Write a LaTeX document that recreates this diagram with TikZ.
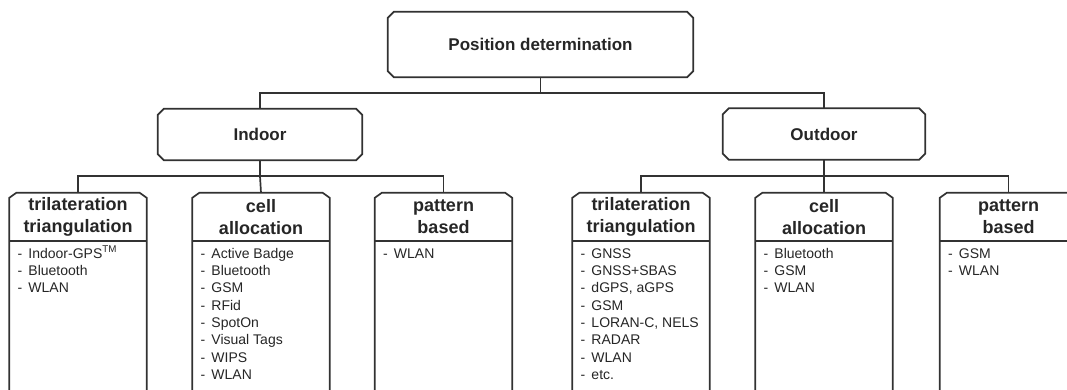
\documentclass[tikz,border=0pt]{standalone}
\usepackage{fontspec}
\setmainfont{Liberation Sans}
\usetikzlibrary{calc}
\definecolor{ln}{RGB}{50,50,50}
\definecolor{tx}{RGB}{38,38,38}
\newcommand\bevbox[1]{%
  \draw[edge] ($(#1.north west)+(0,6)$) -- ($(#1.north west)+(6,0)$) -- ($(#1.north east)+(-6,0)$) -- ($(#1.north east)+(0,6)$) -- ($(#1.south east)+(0,-6)$) -- ($(#1.south east)+(-6,0)$) -- ($(#1.south west)+(6,0)$) -- ($(#1.south west)+(0,-6)$) -- cycle;}
\newcommand\colbox[1]{%
  \draw[edge] ($(#1.south west)+(0,160)$) -- ($(#1.north west)+(0,5)$) -- ($(#1.north west)+(7,0)$) -- ($(#1.north east)+(-7,0)$) -- ($(#1.north east)+(0,5)$) -- ($(#1.south east)+(0,160)$);
  \draw[edge] (#1.south west) -- (#1.south east);}
\newcommand\itemlist[1]{{\fontsize{14}{17.3}\selectfont\begin{tabular}[t]{@{}l@{\hspace{6.3pt}}l@{}}#1\end{tabular}}}
\begin{document}
\begin{tikzpicture}[x=1pt,y=-1pt,
  edge/.style={draw=ln,line width=1.7pt,line join=miter},
  mainbox/.style={rectangle,draw=none,inner sep=0pt,text=tx,font=\fontsize{17}{20}\selectfont\bfseries},
  headbox/.style={rectangle,draw=none,inner sep=0pt,minimum width=137pt,minimum height=48pt,align=center,text=tx,font=\fontsize{18}{22}\selectfont\bfseries},
  listbox/.style={inner sep=0pt,anchor=base west,text=tx}]
\useasboundingbox (0,0) rectangle (1067,390);
\fill[white] (0,0) rectangle (1067,390);
\clip (0,0) rectangle (1067,390);
% level 0 and 1
\node[mainbox,minimum width=305pt,minimum height=65pt] (tp) at (540.5,44.5) {Position determination};
\node[mainbox,minimum width=204pt,minimum height=51pt] (ind) at (260,134.5) {Indoor};
\node[mainbox,minimum width=202pt,minimum height=51pt] (outd) at (824,134) {Outdoor};
\bevbox{tp}\bevbox{ind}\bevbox{outd}
% level 2 headers
\node[headbox] (h1) at (78,217) {trilateration\\triangulation};
\node[headbox] (h2) at (261,217) {cell\\allocation};
\node[headbox] (h3) at (443.5,217) {pattern\\based};
\node[headbox] (h4) at (641,217) {trilateration\\triangulation};
\node[headbox] (h5) at (824,217) {cell\\allocation};
\node[headbox] (h6) at (1008.5,217) {pattern\\based};
\foreach \h in {h1,h2,h3,h4,h5,h6}{\colbox{\h}}
% lists
\node[listbox] (l1) at ($(h1.south west)+(8,17)$) {\itemlist{- & Indoor-GPS\textsuperscript{TM}\\ - & Bluetooth\\ - & WLAN}};
\node[listbox] (l2) at ($(h2.south west)+(8,17)$) {\itemlist{- & Active Badge\\ - & Bluetooth\\ - & GSM\\ - & RFid\\ - & SpotOn\\ - & Visual Tags\\ - & WIPS\\ - & WLAN}};
\node[listbox] (l3) at ($(h3.south west)+(8,17)$) {\itemlist{- & WLAN}};
\node[listbox] (l4) at ($(h4.south west)+(8,17)$) {\itemlist{- & GNSS\\ - & GNSS+SBAS\\ - & dGPS, aGPS\\ - & GSM\\ - & LORAN-C, NELS\\ - & RADAR\\ - & WLAN\\ - & etc.}};
\node[listbox] (l5) at ($(h5.south west)+(8,17)$) {\itemlist{- & Bluetooth\\ - & GSM\\ - & WLAN}};
\node[listbox] (l6) at ($(h6.south west)+(8,17)$) {\itemlist{- & GSM\\ - & WLAN}};
% connectors
\draw[edge] (tp.south) -- ++(0,16) coordinate (j0);
\draw[edge] (j0) -| (ind.north);
\draw[edge] (j0) -| (outd.north);
\draw[edge] (ind.south) -- ++(0,16) coordinate (j1);
\draw[edge] (j1) -| (h1.north);
\draw[edge] (j1) -- (h2.north);
\draw[edge] (j1) -| (h3.north);
\draw[edge] (outd.south) -- ++(0,16) coordinate (j2);
\draw[edge] (j2) -| (h4.north);
\draw[edge] (j2) -- (h5.north);
\draw[edge] (j2) -| (h6.north);
\end{tikzpicture}
\end{document}
